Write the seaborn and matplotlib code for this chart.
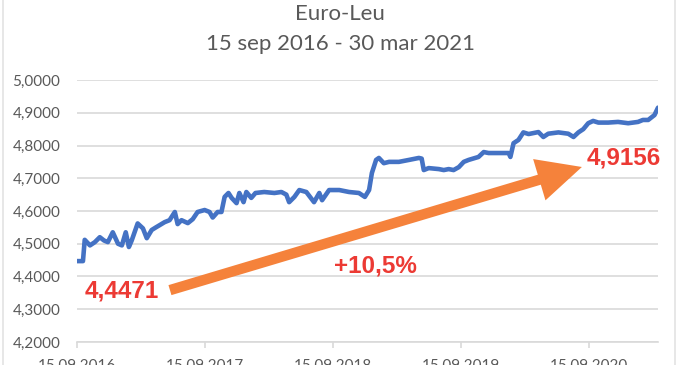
import matplotlib
matplotlib.use("Agg")
import matplotlib.pyplot as plt
from matplotlib.ticker import FuncFormatter
from matplotlib.lines import Line2D
import pandas as pd
import seaborn as sns

# ---------------- data ----------------
dates = [
    "2016-09-15", "2016-10-02", "2016-10-07", "2016-10-22", "2016-11-05", "2016-11-19",
    "2016-12-01", "2016-12-12", "2016-12-26", "2017-01-10", "2017-01-21", "2017-02-01",
    "2017-02-10", "2017-02-18", "2017-03-07", "2017-03-22", "2017-04-02", "2017-04-16",
    "2017-04-28", "2017-05-09", "2017-05-23", "2017-06-06", "2017-06-21", "2017-06-29",
    "2017-07-10", "2017-07-28", "2017-08-11", "2017-08-25", "2017-09-14", "2017-09-28",
    "2017-10-07", "2017-10-21", "2017-11-01", "2017-11-10", "2017-11-21", "2017-11-30",
    "2017-12-14", "2017-12-22", "2018-01-03", "2018-01-11", "2018-01-25", "2018-02-06",
    "2018-03-03", "2018-04-01", "2018-04-21", "2018-05-05", "2018-05-13", "2018-05-28",
    "2018-06-11", "2018-07-01", "2018-07-23", "2018-08-07", "2018-08-15", "2018-09-04",
    "2018-10-03", "2018-10-31", "2018-11-28", "2018-12-15", "2018-12-27", "2019-01-04",
    "2019-01-16", "2019-01-24", "2019-02-07", "2019-02-22", "2019-03-22", "2019-04-20",
    "2019-05-18", "2019-05-26", "2019-06-01", "2019-06-15", "2019-07-14", "2019-07-28",
    "2019-08-11", "2019-08-25", "2019-09-09", "2019-09-23", "2019-10-07", "2019-11-04",
    "2019-11-19", "2019-12-03", "2019-12-31", "2020-01-29", "2020-02-03", "2020-02-12",
    "2020-02-26", "2020-03-11", "2020-03-26", "2020-04-23", "2020-05-07", "2020-05-21",
    "2020-06-19", "2020-07-17", "2020-08-01", "2020-08-15", "2020-08-29", "2020-09-12",
    "2020-09-26", "2020-10-11", "2020-11-08", "2020-12-06", "2021-01-04", "2021-02-01",
    "2021-02-15", "2021-03-02", "2021-03-20", "2021-03-30",
]
rates = [
    4.447, 4.447, 4.512, 4.495, 4.505, 4.520,
    4.510, 4.505, 4.535, 4.500, 4.495, 4.535,
    4.490, 4.510, 4.562, 4.547, 4.517, 4.542,
    4.550, 4.557, 4.566, 4.572, 4.597, 4.560,
    4.572, 4.563, 4.575, 4.597, 4.603, 4.597,
    4.580, 4.597, 4.597, 4.643, 4.655, 4.640,
    4.624, 4.655, 4.627, 4.658, 4.640, 4.655,
    4.658, 4.655, 4.658, 4.650, 4.627, 4.643,
    4.664, 4.658, 4.627, 4.655, 4.633, 4.664,
    4.664, 4.658, 4.655, 4.643, 4.664, 4.716,
    4.756, 4.762, 4.746, 4.750, 4.750, 4.756,
    4.762, 4.760, 4.725, 4.731, 4.728, 4.725,
    4.728, 4.725, 4.734, 4.750, 4.756, 4.765,
    4.780, 4.777, 4.777, 4.777, 4.765, 4.807,
    4.817, 4.840, 4.835, 4.841, 4.826, 4.836,
    4.840, 4.836, 4.826, 4.840, 4.850, 4.868,
    4.875, 4.870, 4.870, 4.872, 4.868, 4.872,
    4.878, 4.878, 4.893, 4.9156,
]
tick_dates = ["2016-09-15", "2017-09-15", "2018-09-15", "2019-09-15", "2020-09-15"]
tick_labels = ["15.09.2016", "15.09.2017", "15.09.2018", "15.09.2019", "15.09.2020"]
y_ticks = [4.2, 4.3, 4.4, 4.5, 4.6, 4.7, 4.8, 4.9, 5.0]
title_lines = ["Euro-Leu", "15 sep 2016 - 30 mar 2021"]
start_label = "4,4471"
end_label = "4,9156"
change_label = "+10,5%"

df = pd.DataFrame({"date": pd.to_datetime(dates), "rate": rates})

# ---------------- style ----------------
sns.set_theme(style="white")
plt.rcParams["font.family"] = ["Lato", "DejaVu Sans"]

BLUE = "#4472C4"
ORANGE = "#F5823B"
RED = "#EC3A34"
GRAY_TXT = "#595959"
GRID = "#D9D9D9"

fig = plt.figure(figsize=(6.8, 3.65), dpi=100)
ax = fig.add_axes([77 / 680, 1 - 342 / 365, 581 / 680, 262 / 365])

sns.lineplot(data=df, x="date", y="rate", ax=ax, color=BLUE, linewidth=3.3,
             solid_joinstyle="round", solid_capstyle="round")

ax.set_xlim(pd.Timestamp("2016-09-15"), pd.Timestamp("2021-03-30"))
ax.set_ylim(4.2, 5.0)
ax.set_yticks(y_ticks)
ax.yaxis.set_major_formatter(FuncFormatter(lambda v, p: f"{v:.4f}".replace(".", ",")))
ax.set_xticks(pd.to_datetime(tick_dates))
ax.set_xticklabels(tick_labels)
ax.set_xlabel("")
ax.set_ylabel("")

for s in ["top", "right", "left"]:
    ax.spines[s].set_visible(False)
ax.spines["bottom"].set_color(GRID)
ax.spines["bottom"].set_linewidth(1.2)
ax.grid(axis="y", color=GRID, linewidth=1.2)
ax.grid(axis="x", visible=False)
ax.set_axisbelow(True)
ax.tick_params(axis="y", length=0, pad=12, labelsize=11, labelcolor=GRAY_TXT)
ax.tick_params(axis="x", length=4, width=1.2, color=GRID, pad=8, labelsize=11,
               labelcolor=GRAY_TXT, direction="out", bottom=True)

# title
fig.text(0.5, 1 - 14 / 365, title_lines[0], ha="center", va="center",
         fontsize=16, color=GRAY_TXT)
fig.text(0.5, 1 - 44 / 365, title_lines[1], ha="center", va="center",
         fontsize=16, color=GRAY_TXT)

# arrow
ax.annotate("", xy=(0.869, 0.668), xytext=(0.160, 0.198),
            xycoords="axes fraction", textcoords="axes fraction",
            arrowprops=dict(arrowstyle="simple,head_length=32,head_width=31,tail_width=7.5",
                            mutation_scale=1, color=ORANGE, shrinkA=0, shrinkB=0, lw=0))

bold = dict(fontweight="bold", color=RED, fontsize=17.5,
            family=["Liberation Sans", "DejaVu Sans"], ha="center", va="center")
ax.text(0.0775, 0.195, start_label, transform=ax.transAxes, **bold)
ax.text(0.9415, 0.702, end_label, transform=ax.transAxes, **bold)
ax.text(0.513, 0.290, change_label, transform=ax.transAxes, **bold)

# light frame lines
fig.add_artist(Line2D([3 / 680, 3 / 680], [0, 1], transform=fig.transFigure,
                      color="#E3E3E3", lw=1.2))
fig.add_artist(Line2D([675 / 680, 675 / 680], [0, 1], transform=fig.transFigure,
                      color="#E3E3E3", lw=1.2))

fig.savefig("out.png", dpi=100)
